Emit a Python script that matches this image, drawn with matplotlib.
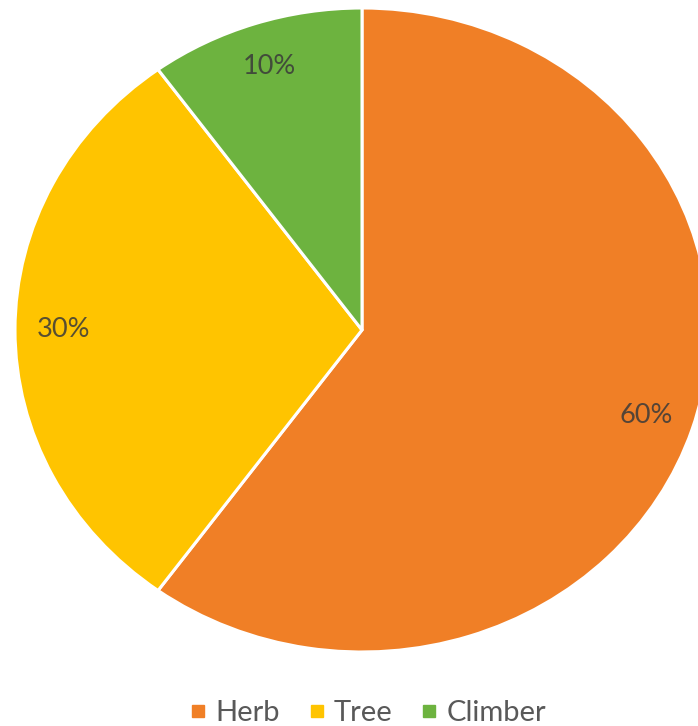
import matplotlib
matplotlib.use("Agg")
import matplotlib.pyplot as plt
from matplotlib.lines import Line2D

categories = ["Herb", "Tree", "Climber"]
values = [60, 30, 10]
colors = ["#F07F26", "#FFC400", "#6DB33F"]

plt.rcParams['font.family'] = ['Lato', 'DejaVu Sans']

W, H = 698, 726
fig = plt.figure(figsize=(W / 100, H / 100), dpi=100)
# pie centre (362, 330) px, radii 347 x 322 px
cx, cy, rx, ry = 362, 330, 347, 322
ax = fig.add_axes([(cx - rx) / W, (H - cy - ry) / H, 2 * rx / W, 2 * ry / H])
wedges, texts, autotexts = ax.pie(
    values, colors=colors, startangle=90, counterclock=False,
    autopct=lambda p: f"{p:.0f}%", pctdistance=0.86,
    wedgeprops=dict(edgecolor="white", linewidth=2.2),
    textprops=dict(fontsize=19.5, color="#3a3a3a", alpha=0.85),
)
ax.set_aspect('auto')
ax.set_xlim(-1, 1)
ax.set_ylim(-1, 1)
ax.axis('off')
for w in wedges:
    w.set_clip_on(False)

handles = [Line2D([], [], marker='s', linestyle='none', markersize=8.5,
                  markerfacecolor=c, markeredgecolor=c) for c in colors]
fig.legend(handles, categories, loc='center', bbox_to_anchor=(368 / W, 1 - 713 / H),
           ncol=3, frameon=False, fontsize=21, labelcolor="#595959",
           handlelength=0.55, handletextpad=0.3, columnspacing=1.0)

fig.savefig("out.png", dpi=100, facecolor="white")
